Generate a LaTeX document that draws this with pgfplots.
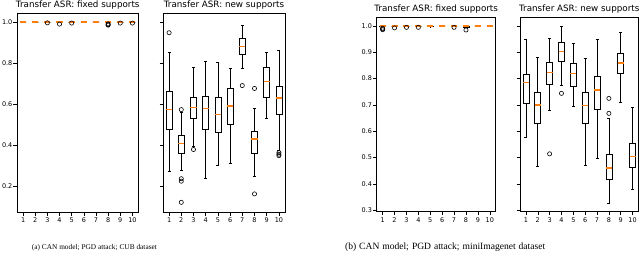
\documentclass[border=0pt]{standalone}
\usepackage{fontspec}
\setmainfont{DejaVu Sans}
\newfontfamily\capfont{Liberation Serif}
\usepackage{pgfplots}
\pgfplotsset{compat=1.18}
\usepgfplotslibrary{statistics}
\definecolor{mplorange}{RGB}{255,127,14}
\pgfplotsset{
  panel/.style={
    scale only axis,
    anchor=south west,
    xmin=0.5, xmax=10.5,
    xtick={1,...,10},
    tick align=outside,
    tick pos=left,
    major tick length=3.5bp,
    tick style={black, line width=0.5bp},
    axis line style={black, line width=0.6bp},
    /pgf/number format/assume math mode=true,
    tick label style={font=\fontsize{6.5}{7}\selectfont},
    xticklabel style={inner sep=0pt, yshift=-2.2bp},
    yticklabel style={inner sep=0pt, xshift=-1bp, /pgf/number format/.cd, fixed, fixed zerofill, precision=1},
    every axis title shift=0pt,
    title style={font=\fontsize{8.8}{10}\selectfont, anchor=base, at={(0.5,1)}, yshift=5.5bp, inner sep=0pt},
    boxplot/draw direction=y,
    boxplot/box extend=0.5,
    boxplot/whisker extend=0.25,
    boxplot/every median/.style={draw=mplorange, line width=1.5bp},
  },
  bx/.style={draw=black, line width=0.65bp, solid, mark=o, mark size=2.1bp, mark options={draw=black, fill=none, solid, line width=0.6bp}},
  fx/.style={bx, boxplot/whisker extend=0, boxplot/every median/.style={draw=mplorange, line width=1.2bp}},
}
\begin{document}
\begin{tikzpicture}
\useasboundingbox (0,0) rectangle (640bp,262bp);

% ---------- (a) fixed supports, CUB ----------
\begin{axis}[panel, at={(17bp,50bp)}, width=121.5bp, height=199bp,
  ymin=0.076, ymax=1.044, ytick={0.2,0.4,0.6,0.8,1.0},
  title={Transfer ASR: fixed supports}]
\addplot[fx, boxplot prepared={draw position=1, lower whisker=1, lower quartile=1, median=1, upper quartile=1, upper whisker=1}] coordinates {};
\addplot[fx, boxplot prepared={draw position=2, lower whisker=1, lower quartile=1, median=1, upper quartile=1, upper whisker=1}] coordinates {};
\addplot[fx, boxplot prepared={draw position=3, lower whisker=1, lower quartile=1, median=1, upper quartile=1, upper whisker=1}] coordinates {(0,0.996)};
\addplot[fx, boxplot prepared={draw position=4, lower whisker=1, lower quartile=1, median=1, upper quartile=1, upper whisker=1}] coordinates {(0,0.990)};
\addplot[fx, boxplot prepared={draw position=5, lower whisker=1, lower quartile=1, median=1, upper quartile=1, upper whisker=1}] coordinates {(0,0.995)};
\addplot[fx, boxplot prepared={draw position=6, lower whisker=1, lower quartile=1, median=1, upper quartile=1, upper whisker=1}] coordinates {};
\addplot[fx, boxplot prepared={draw position=7, lower whisker=1, lower quartile=1, median=1, upper quartile=1, upper whisker=1}] coordinates {};
\addplot[fx, boxplot prepared={draw position=8, lower whisker=1, lower quartile=1, median=1, upper quartile=1, upper whisker=1}] coordinates {(0,0.985) (0,0.988) (0,0.991)};
\addplot[fx, boxplot prepared={draw position=9, lower whisker=1, lower quartile=1, median=1, upper quartile=1, upper whisker=1}] coordinates {(0,0.995)};
\addplot[fx, boxplot prepared={draw position=10, lower whisker=1, lower quartile=1, median=1, upper quartile=1, upper whisker=1}] coordinates {(0,0.995)};
\end{axis}

% ---------- (a) new supports, CUB ----------
\begin{axis}[panel, at={(163bp,50bp)}, width=122bp, height=199bp,
  ymin=0.076, ymax=1.044, ytick={0.2,0.4,0.6,0.8,1.0}, yticklabels={},
  title={Transfer ASR: new supports}]
\addplot[bx, boxplot prepared={draw position=1, lower whisker=0.273, lower quartile=0.478, median=0.575, upper quartile=0.662, upper whisker=0.851}] coordinates {(0,0.948)};
\addplot[bx, boxplot prepared={draw position=2, lower whisker=0.277, lower quartile=0.362, median=0.410, upper quartile=0.447, upper whisker=0.560}] coordinates {(0,0.574) (0,0.238) (0,0.226) (0,0.123)};
\addplot[bx, boxplot prepared={draw position=3, lower whisker=0.394, lower quartile=0.532, median=0.585, upper quartile=0.633, upper whisker=0.781}] coordinates {(0,0.380)};
\addplot[bx, boxplot prepared={draw position=4, lower whisker=0.238, lower quartile=0.478, median=0.580, upper quartile=0.640, upper whisker=0.810}] coordinates {};
\addplot[bx, boxplot prepared={draw position=5, lower whisker=0.301, lower quartile=0.464, median=0.551, upper quartile=0.636, upper whisker=0.804}] coordinates {};
\addplot[bx, boxplot prepared={draw position=6, lower whisker=0.314, lower quartile=0.504, median=0.591, upper quartile=0.677, upper whisker=0.775}] coordinates {};
\addplot[bx, boxplot prepared={draw position=7, lower whisker=0.776, lower quartile=0.843, median=0.881, upper quartile=0.919, upper whisker=0.982}] coordinates {(0,0.691)};
\addplot[bx, boxplot prepared={draw position=8, lower whisker=0.249, lower quartile=0.362, median=0.430, upper quartile=0.470, upper whisker=0.580}] coordinates {(0,0.677) (0,0.164)};
\addplot[bx, boxplot prepared={draw position=9, lower whisker=0.532, lower quartile=0.636, median=0.711, upper quartile=0.778, upper whisker=0.852}] coordinates {};
\addplot[bx, boxplot prepared={draw position=10, lower whisker=0.375, lower quartile=0.552, median=0.630, upper quartile=0.688, upper whisker=0.862}] coordinates {(0,0.365) (0,0.357) (0,0.350)};
\end{axis}

% ---------- (b) fixed supports, miniImagenet ----------
\begin{axis}[panel, at={(376.7bp,50.3bp)}, width=119bp, height=194.6bp,
  ymin=0.294, ymax=1.034, ytick={0.3,0.4,0.5,0.6,0.7,0.8,0.9,1.0},
  title={Transfer ASR: fixed supports}]
\addplot[fx, boxplot prepared={draw position=1, lower whisker=0.997, lower quartile=0.999, median=1, upper quartile=1, upper whisker=1}] coordinates {(0,0.986) (0,0.989) (0,0.992)};
\addplot[fx, boxplot prepared={draw position=2, lower whisker=1, lower quartile=1, median=1, upper quartile=1, upper whisker=1}] coordinates {(0,0.993)};
\addplot[fx, boxplot prepared={draw position=3, lower whisker=1, lower quartile=1, median=1, upper quartile=1, upper whisker=1}] coordinates {(0,0.995)};
\addplot[fx, boxplot prepared={draw position=4, lower whisker=1, lower quartile=1, median=1, upper quartile=1, upper whisker=1}] coordinates {(0,0.995)};
\addplot[fx, boxplot prepared={draw position=5, lower whisker=0.997, lower quartile=0.998, median=1, upper quartile=1, upper whisker=1}] coordinates {};
\addplot[fx, boxplot prepared={draw position=6, lower whisker=1, lower quartile=1, median=1, upper quartile=1, upper whisker=1}] coordinates {};
\addplot[fx, boxplot prepared={draw position=7, lower whisker=1, lower quartile=1, median=1, upper quartile=1, upper whisker=1}] coordinates {(0,0.995)};
\addplot[fx, boxplot prepared={draw position=8, lower whisker=0.994, lower quartile=0.996, median=1, upper quartile=1, upper whisker=1}] coordinates {(0,0.985)};
\addplot[fx, boxplot prepared={draw position=9, lower whisker=1, lower quartile=1, median=1, upper quartile=1, upper whisker=1}] coordinates {};
\addplot[fx, boxplot prepared={draw position=10, lower whisker=1, lower quartile=1, median=1, upper quartile=1, upper whisker=1}] coordinates {};
\end{axis}

% ---------- (b) new supports, miniImagenet ----------
\begin{axis}[panel, at={(520bp,50.3bp)}, width=118.5bp, height=194.6bp,
  ymin=0.294, ymax=1.034, ytick={0.3,0.4,0.5,0.6,0.7,0.8,0.9,1.0}, yticklabels={},
  title={Transfer ASR: new supports}]
\addplot[bx, boxplot prepared={draw position=1, lower whisker=0.577, lower quartile=0.706, median=0.786, upper quartile=0.816, upper whisker=0.951}] coordinates {};
\addplot[bx, boxplot prepared={draw position=2, lower whisker=0.465, lower quartile=0.630, median=0.700, upper quartile=0.748, upper whisker=0.880}] coordinates {};
\addplot[bx, boxplot prepared={draw position=3, lower whisker=0.681, lower quartile=0.778, median=0.824, upper quartile=0.863, upper whisker=0.953}] coordinates {(0,0.514)};
\addplot[bx, boxplot prepared={draw position=4, lower whisker=0.776, lower quartile=0.864, median=0.904, upper quartile=0.940, upper whisker=1.000}] coordinates {(0,0.744)};
\addplot[bx, boxplot prepared={draw position=5, lower whisker=0.693, lower quartile=0.772, median=0.820, upper quartile=0.860, upper whisker=0.934}] coordinates {};
\addplot[bx, boxplot prepared={draw position=6, lower whisker=0.469, lower quartile=0.630, median=0.698, upper quartile=0.748, upper whisker=0.877}] coordinates {};
\addplot[bx, boxplot prepared={draw position=7, lower whisker=0.497, lower quartile=0.683, median=0.757, upper quartile=0.807, upper whisker=0.949}] coordinates {};
\addplot[bx, boxplot prepared={draw position=8, lower whisker=0.326, lower quartile=0.418, median=0.461, upper quartile=0.512, upper whisker=0.650}] coordinates {(0,0.725) (0,0.668)};
\addplot[bx, boxplot prepared={draw position=9, lower whisker=0.711, lower quartile=0.822, median=0.860, upper quartile=0.896, upper whisker=0.978}] coordinates {};
\addplot[bx, boxplot prepared={draw position=10, lower whisker=0.380, lower quartile=0.461, median=0.503, upper quartile=0.555, upper whisker=0.691}] coordinates {};
\end{axis}

% ---------- captions ----------
\node[anchor=base west, inner sep=0pt] at (31.7bp,13bp)
  {\capfont\fontsize{7.35}{8}\selectfont\makebox[125bp][s]{(a) CAN model; PGD attack; CUB dataset}};
\node[anchor=base west, inner sep=0pt] at (345bp,13bp)
  {\capfont\fontsize{9.6}{10}\selectfont\makebox[200bp][s]{(b) CAN model; PGD attack; miniImagenet dataset}};
\end{tikzpicture}
\end{document}
